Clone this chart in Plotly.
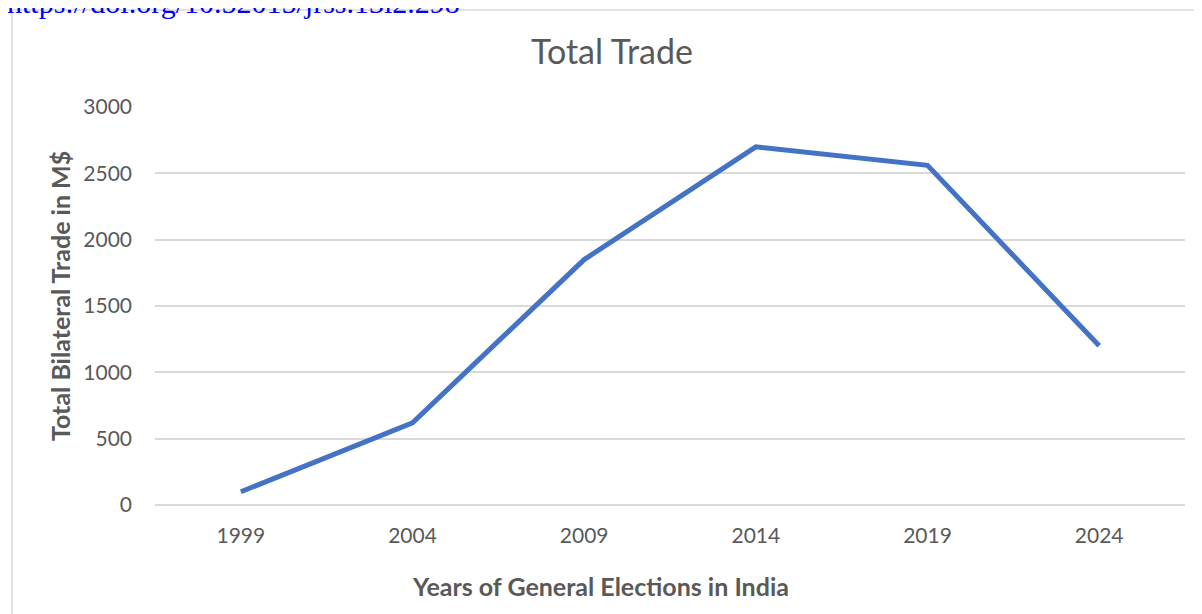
import plotly.graph_objects as go

# Data
years = ["1999", "2004", "2009", "2014", "2019", "2024"]
total_trade = [100, 620, 1850, 2700, 2560, 1200]

# the page body has an 8px margin, so screen = figure + 8
OFF = 8
W, H = 1202, 614
ml, mr, mt, mb = 155 - OFF, W - (1185 - OFF), 107 - OFF, H - (505 - OFF)
pw = W - ml - mr
ph = H - mt - mb


def px_x(x):
    # screen pixel -> paper coordinate
    return (x - OFF - ml) / pw


def px_y(y):
    return (H - mb - (y - OFF)) / ph


grey = "#595959"
font = "Lato"

fig = go.Figure()
fig.add_trace(go.Scatter(
    x=years, y=total_trade, mode="lines",
    line=dict(color="#4472C4", width=5),
    hoverinfo="x+y",
))

fig.update_layout(
    width=W, height=H,
    margin=dict(l=ml, r=mr, t=mt, b=mb),
    paper_bgcolor="white", plot_bgcolor="white",
    showlegend=False,
    font=dict(family=font, color=grey, size=21),
    title=dict(text="Total Trade", x=(612 - OFF) / W, xref="container", xanchor="center",
               y=1 - (52 - OFF) / H, yanchor="middle",
               font=dict(size=34, color=grey, family=font)),
    xaxis=dict(type="category", range=[-0.5, 5.5], showgrid=False, ticks="",
               showline=False, zeroline=False, ticklabelstandoff=16,
               tickfont=dict(size=21, color=grey)),
    yaxis=dict(range=[0, 3000], dtick=500, showgrid=True, gridcolor="#d9d9d9",
               gridwidth=1.5, zeroline=True, zerolinecolor="#d9d9d9", zerolinewidth=1.5,
               showline=False, ticks="", ticklabelstandoff=22,
               tickfont=dict(size=21, color=grey)),
    shapes=[dict(type="rect", xref="paper", yref="paper",
                 x0=px_x(12), x1=px_x(W + 40), y0=px_y(H + 40), y1=px_y(10),
                 line=dict(color="#d9d9d9", width=1.5), fillcolor="rgba(0,0,0,0)",
                 layer="below")],
    annotations=[
        dict(text="<b>Years of General Elections in India</b>",
             xref="paper", yref="paper", x=px_x(600), y=px_y(586),
             xanchor="center", yanchor="middle", showarrow=False,
             font=dict(size=25, color=grey, family=font)),
        dict(text="<b>Total Bilateral Trade in M$</b>", textangle=-90,
             xref="paper", yref="paper", x=px_x(60), y=px_y(296),
             xanchor="center", yanchor="middle", showarrow=False,
             font=dict(size=25, color=grey, family=font)),
        dict(text="https://doi.org/10.52015/jrss.13i2.298",
             xref="paper", yref="paper", x=px_x(5), y=px_y(21),
             xanchor="left", yanchor="bottom", showarrow=False,
             font=dict(family="Liberation Serif", size=30, color="#0000ee")),
    ],
)

fig.write_html("out.html")
